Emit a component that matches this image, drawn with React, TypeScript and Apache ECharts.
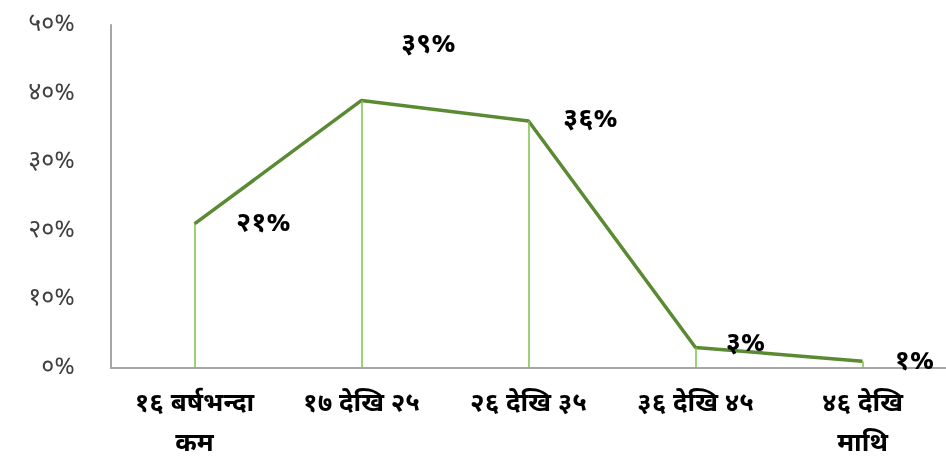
import React, { useEffect, useRef } from "react";
import * as echarts from "echarts";

const categories = ["१६ बर्षभन्दा\nकम", "१७ देखि २५", "२६ देखि ३५", "३६ देखि ४५", "४६ देखि\nमाथि"];
const values = [21, 39, 36, 3, 1];
const valueLabels = ["२१%", "३९%", "३६%", "३%", "१%"];
const yTickLabels = ["०%", "१०%", "२०%", "३०%", "४०%", "५०%"];

const FONT = "'Noto Sans Devanagari', 'Noto Sans', 'DejaVu Sans', sans-serif";
const labelOffsets = [
  [69, 20],
  [67, -36],
  [62, 18],
  [50, 16],
  [52, 20],
];

export default function App() {
  const ref = useRef<HTMLDivElement>(null);
  useEffect(() => {
    if (!ref.current) return;
    const chart = echarts.init(ref.current, null, { renderer: "svg" });
    chart.setOption({
      animation: false,
      grid: {
        left: 111,
        right: 0,
        top: 25,
        bottom: 98,
        containLabel: false,
        outerBoundsMode: "none",
      },
      xAxis: {
        type: "category",
        data: categories,
        boundaryGap: true,
        axisLine: { lineStyle: { color: "#a6a6a6", width: 2 } },
        axisTick: { show: false },
        axisLabel: {
          color: "#000",
          fontFamily: FONT,
          fontWeight: "bold",
          fontSize: 26,
          lineHeight: 40,
          margin: 17,
          interval: 0,
        },
      },
      yAxis: {
        type: "value",
        min: 0,
        max: 50,
        interval: 10,
        axisLine: { show: true, lineStyle: { color: "#a6a6a6", width: 2 } },
        axisTick: { show: false },
        splitLine: { show: false },
        axisLabel: {
          color: "#404040",
          fontFamily: FONT,
          fontSize: 25,
          margin: 36,
          formatter: (v: number) => yTickLabels[Math.round(v / 10)],
        },
      },
      series: [
        {
          type: "line",
          data: values.map((v, i) => ({
            value: v,
            label: {
              show: true,
              position: "top",
              offset: labelOffsets[i],
              formatter: valueLabels[i],
            },
          })),
          symbol: "circle",
          symbolSize: 1,
          showSymbol: true,
          itemStyle: { color: "rgba(0,0,0,0)" },
          lineStyle: { color: "#5a8a32", width: 3.5 },
          label: {
            show: true,
            color: "#000",
            fontFamily: FONT,
            fontWeight: "bold",
            fontSize: 27,
          },
          markLine: {
            silent: true,
            symbol: "none",
            label: { show: false },
            lineStyle: { color: "#7cc04a", width: 1.5, type: "solid" },
            data: values.map((v, i) => [
              { coord: [i, 0] },
              { coord: [i, v] },
            ]),
          },
          z: 3,
        },
      ],
    });
    return () => chart.dispose();
  }, []);
  return (
    <div
      ref={ref}
      style={{ position: "fixed", left: 0, top: 0, width: 946, height: 466 }}
    />
  );
}
